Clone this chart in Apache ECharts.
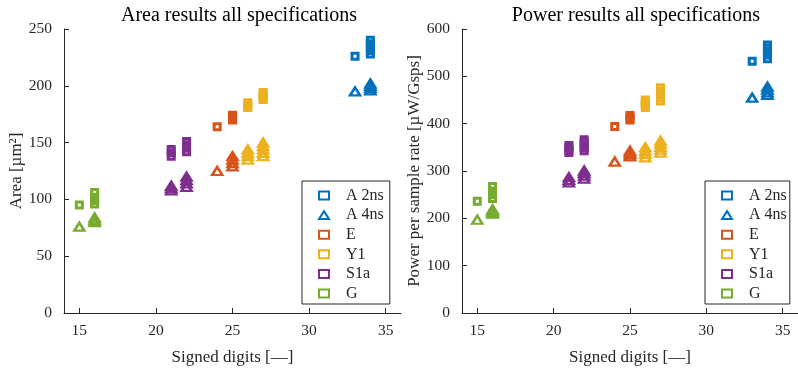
<!DOCTYPE html>
<html>
<head>
<meta charset="utf-8">
<script src="https://cdn.jsdelivr.net/npm/echarts@6/dist/echarts.min.js"></script>
<style>
  html, body { margin: 0; padding: 0; background: #fff; }
  #chart { width: 798px; height: 371px; }
</style>
</head>
<body>
<div id="chart"></div>
<script>
// Specification names and x tick positions
const specNames = ['A 2ns', 'A 4ns', 'E', 'Y1', 'S1a', 'G'];
const xTicks = [15, 20, 25, 30, 35];

// Area results: [signed digits, area in µm²]
const areaA2ns = [[33, 226], [34, 228], [34, 231], [34, 234], [34, 237], [34, 240]];
const areaA4ns = [[33, 195], [34, 196], [34, 198], [34, 200], [34, 202]];
const areaE2ns = [[24, 164], [25, 170], [25, 172], [25, 174]];
const areaE4ns = [[24, 125], [25, 129], [25, 132], [25, 135], [25, 138]];
const areaY2ns = [[26, 181], [26, 183], [26, 185], [27, 188], [27, 190], [27, 192], [27, 194]];
const areaY4ns = [[26, 135], [26, 138], [26, 141], [26, 144], [27, 138], [27, 141], [27, 144], [27, 147], [27, 150]];
const areaS2ns = [[21, 138], [21, 141], [21, 144], [22, 142], [22, 145], [22, 148], [22, 151]];
const areaS4ns = [[21, 108], [21, 110], [21, 112], [22, 111], [22, 114], [22, 117], [22, 120]];
const areaG2ns = [[15, 95], [16, 96], [16, 99], [16, 102], [16, 106]];
const areaG4ns = [[15, 76], [16, 80], [16, 82], [16, 84]];

// Power results: [signed digits, power per sample rate in µW/Gsps]
const powA2ns = [[33, 532], [34, 537], [34, 545], [34, 553], [34, 560], [34, 566]];
const powA4ns = [[33, 455], [34, 461], [34, 466], [34, 472], [34, 478]];
const powE2ns = [[24, 394], [25, 408], [25, 412], [25, 417]];
const powE4ns = [[24, 320], [25, 331], [25, 335], [25, 339], [25, 343]];
const powY2ns = [[26, 434], [26, 440], [26, 445], [26, 450], [27, 448], [27, 455], [27, 462], [27, 469], [27, 476]];
const powY4ns = [[26, 329], [26, 336], [26, 343], [26, 350], [27, 339], [27, 345], [27, 351], [27, 358], [27, 364]];
const powS2ns = [[21, 339], [21, 344], [21, 349], [21, 354], [22, 343], [22, 349], [22, 355], [22, 361], [22, 366]];
const powS4ns = [[21, 276], [21, 281], [21, 287], [22, 284], [22, 290], [22, 296], [22, 301]];
const powG2ns = [[15, 236], [16, 242], [16, 250], [16, 258], [16, 267]];
const powG4ns = [[15, 197], [16, 210], [16, 213], [16, 216], [16, 219]];

const colors = ['#0072BD', '#0072BD', '#D95319', '#EDB120', '#7E2F8E', '#77AC30'];
const inkColor = '#262626';
const serif = '"Liberation Serif", "DejaVu Serif", serif';

const areaSets = {
  square: [areaA2ns, null, areaE2ns, areaY2ns, areaS2ns, areaG2ns],
  triangle: [null, areaA4ns, areaE4ns, areaY4ns, areaS4ns, areaG4ns]
};
const powSets = {
  square: [powA2ns, null, powE2ns, powY2ns, powS2ns, powG2ns],
  triangle: [null, powA4ns, powE4ns, powY4ns, powS4ns, powG4ns]
};

function markerSeries(sets, axisIdx) {
  const out = [];
  specNames.forEach((name, i) => {
    const sq = sets.square[i];
    const tri = sets.triangle[i];
    // the legend entry follows the first series of a name, so order by legend shape
    const order = i === 1 ? [['triangle', tri], ['rect', sq]] : [['rect', sq], ['triangle', tri]];
    order.forEach(([shape, data]) => {
      if (!data) return;
      out.push({
        name: name,
        type: 'scatter',
        xAxisIndex: axisIdx,
        yAxisIndex: axisIdx,
        symbol: shape,
        symbolSize: shape === 'rect' ? 6 : [10, 8],
        data: data,
        itemStyle: {
          color: 'rgba(255,255,255,0)', borderColor: colors[i],
          borderWidth: shape === 'rect' ? 3 : 2.5, opacity: 1
        },
        emphasis: { disabled: true },
        silent: true
      });
    });
  });
  return out;
}

function xAxis(gridIndex) {
  return {
    type: 'value', gridIndex: gridIndex, min: 14, max: 36,
    name: 'Signed digits [\u2014]', nameLocation: 'middle', nameGap: 36,
    nameTextStyle: { fontFamily: serif, fontSize: 17, color: inkColor },
    axisLine: { onZero: false, lineStyle: { color: inkColor, width: 1 } },
    axisTick: { inside: true, length: 5, customValues: xTicks, lineStyle: { color: inkColor } },
    axisLabel: { customValues: xTicks, fontFamily: serif, fontSize: 15.5, color: inkColor, margin: 10 },
    splitLine: { show: false }
  };
}

function yAxis(gridIndex, max, interval, name, gap) {
  return {
    type: 'value', gridIndex: gridIndex, min: 0, max: max, interval: interval,
    name: name, nameLocation: 'middle', nameGap: gap,
    nameTextStyle: { fontFamily: serif, fontSize: 17, color: inkColor },
    axisLine: { show: true, lineStyle: { color: inkColor, width: 1 } },
    axisTick: { show: true, inside: true, length: 5, lineStyle: { color: inkColor } },
    axisLabel: { fontFamily: serif, fontSize: 15.5, color: inkColor, margin: 12 },
    splitLine: { show: false }
  };
}

function legend(left, padRight) {
  return {
    left: left, top: 181, orient: 'vertical',
    data: specNames,
    borderColor: inkColor, borderWidth: 1, borderRadius: 0,
    backgroundColor: '#fff',
    padding: [6.5, padRight, 2.5, 16],
    itemWidth: 10, itemHeight: 8, itemGap: 3.6,
    textStyle: { fontFamily: serif, fontSize: 16, color: inkColor, lineHeight: 16, padding: [0, 0, 0, 12] },
    selectedMode: false
  };
}

const chart = echarts.init(document.getElementById('chart'), null, { renderer: 'canvas' });
chart.setOption({
  animation: false,
  backgroundColor: '#fff',
  title: [
    { text: 'Area results all specifications', left: 234, top: 1, textAlign: 'center',
      textStyle: { fontFamily: serif, fontSize: 20, fontWeight: 'normal', color: '#000' } },
    { text: 'Power results all specifications', left: 631, top: 1, textAlign: 'center',
      textStyle: { fontFamily: serif, fontSize: 20, fontWeight: 'normal', color: '#000' } }
  ],
  grid: [
    { left: 64, right: 397, top: 29, bottom: 57 },
    { left: 462, right: 0, top: 29, bottom: 57 }
  ],
  xAxis: [xAxis(0), xAxis(1)],
  yAxis: [
    yAxis(0, 250, 50, 'Area [\u00b5m\u00b2]', 35),
    yAxis(1, 600, 100, 'Power per sample rate [\u00b5W/Gsps]', 34.5)
  ],
  legend: [legend(302, 6), legend(705, 3)],
  series: markerSeries(areaSets, 0).concat(markerSeries(powSets, 1))
});
</script>
</body>
</html>
